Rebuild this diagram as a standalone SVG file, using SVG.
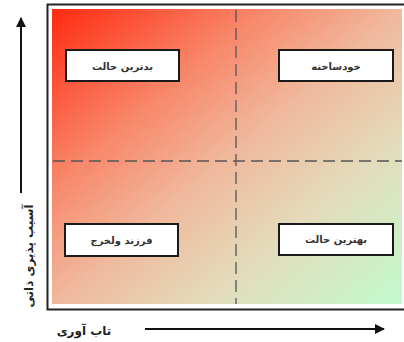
<svg xmlns="http://www.w3.org/2000/svg" width="404" height="342" viewBox="0 0 404 342">
<style>
.box{fill:#ffffff;stroke:#1a1a1a;stroke-width:2}
.lbl{font-family:"DejaVu Sans",sans-serif;font-size:10px;font-weight:bold;fill:#333333;text-anchor:middle;dominant-baseline:central}
.axl{font-family:"DejaVu Sans",sans-serif;font-size:12px;font-weight:bold;fill:#222222;text-anchor:middle;dominant-baseline:central}
.dash{stroke:#555555;stroke-width:1.3;stroke-dasharray:12 6;fill:none}
.axis{stroke:#111111;stroke-width:2;fill:none}
</style>
<defs>
<linearGradient id="bg" x1="0" y1="0" x2="1" y2="1">
<stop offset="0" stop-color="#ff2a10"/>
<stop offset="0.3" stop-color="#f8876a"/>
<stop offset="0.5" stop-color="#f0b89c"/>
<stop offset="0.72" stop-color="#e3dcbc"/>
<stop offset="1" stop-color="#c2fbcd"/>
</linearGradient>
<marker id="ah" viewBox="0 0 10 10" refX="9" refY="5" markerWidth="5" markerHeight="5" orient="auto">
<path d="M0,0 L10,5 L0,10 z" fill="#111111"/>
</marker>
</defs>
<rect x="0" y="0" width="404" height="342" fill="#ffffff"/>
<rect x="47.5" y="4.5" width="365" height="305" fill="#ffffff" stroke="#222222" stroke-width="2"/>
<rect x="52" y="9" width="350" height="295" fill="url(#bg)"/>
<g id="grid">
<line class="dash" x1="236" y1="10" x2="236" y2="304"/>
<line class="dash" x1="53" y1="161" x2="402" y2="161"/>
</g>
<g id="worst">
<rect class="box" x="66" y="50" width="113" height="31"/>
<text class="lbl" x="122.5" y="66">بدترین حالت</text>
</g>
<g id="selfmade">
<rect class="box" x="279" y="50" width="114" height="31"/>
<text class="lbl" x="336" y="66">خودساخته</text>
</g>
<g id="spoiled">
<rect class="box" x="65" y="224" width="113" height="32"/>
<text class="lbl" x="121.5" y="240">فرزند ولخرج</text>
</g>
<g id="best">
<rect class="box" x="279" y="224" width="114" height="31"/>
<text class="lbl" x="336" y="239.5">بهترین حالت</text>
</g>
<g id="connectors">
<line class="axis" x1="21" y1="193" x2="21" y2="18" marker-end="url(#ah)"/>
<line class="axis" x1="145" y1="329" x2="384" y2="329" marker-end="url(#ah)"/>
</g>
<g id="axis-labels">
<text class="axl" transform="translate(29,256) rotate(-90)">آسیب پذیری ذاتی</text>
<text class="axl" x="84" y="331">تاب آوری</text>
</g>
</svg>
